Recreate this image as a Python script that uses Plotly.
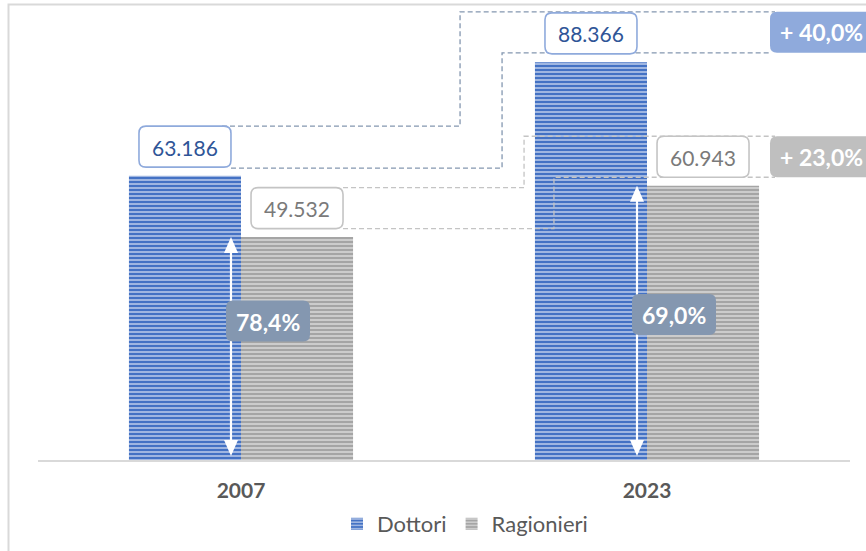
import plotly.graph_objects as go

# ---------------- data ----------------
years = ["2007", "2023"]
dottori = [63186, 88366]
ragionieri = [49532, 60943]
series_names = ["Dottori", "Ragionieri"]


def it_num(v):
    return f"{v:,}".replace(",", ".")


def it_pct(p):
    return f"{p:.1f}".replace(".", ",") + "%"


ratio = [r / d * 100 for d, r in zip(dottori, ragionieri)]
# growth shown as whole percent with ",0"
growth_d = round((dottori[1] / dottori[0] - 1) * 100)
growth_r = round((ragionieri[1] / ragionieri[0] - 1) * 100)

# ---------------- geometry ----------------
W, H = 866, 551
PL, PR, PT, PB = 38, 850, 10, 460
YMAX = 100000
BARGAP = 0.448
FONT = "Lato"

BLUE = "#4472C4"
BLUE_STRIPE = "#d3ddf2"
GREY = "#a5a5a5"
GREY_STRIPE = "#e2e2e2"
BLUE_BORDER = "#8faadc"
BLUE_TEXT = "#2f5597"
GREY_BORDER = "#c4c4c4"
GREY_TEXT = "#7a7a7a"
DASH_BLUE = "#8497b0"
DASH_GREY = "#c4c4c4"
PCT_FILL = "#8497b0"


def fx(px):
    return (px - PL) / (PR - PL)


def fy(py):
    return (PB - py) / (PB - PT)


def ypx(v):
    return PB - v * (PB - PT) / YMAX


CATW = (PR - PL) / len(years)
BW = CATW * (1 - BARGAP) / 2


def cx(i):
    return PL + (i + 0.5) * CATW


def bar_cx(i, s):
    return cx(i) + (s - 0.5) * BW


def P(x, y):
    return f"{fx(x):.5f},{fy(y):.5f}"


def rrect_path(x0, y0, x1, y1, r):
    return (f"M {P(x0 + r, y0)} L {P(x1 - r, y0)} Q {P(x1, y0)} {P(x1, y0 + r)} "
            f"L {P(x1, y1 - r)} Q {P(x1, y1)} {P(x1 - r, y1)} "
            f"L {P(x0 + r, y1)} Q {P(x0, y1)} {P(x0, y1 - r)} "
            f"L {P(x0, y0 + r)} Q {P(x0, y0)} {P(x0 + r, y0)} Z")


def poly_path(pts):
    return "M " + " L ".join(P(x, y) for x, y in pts)


shapes = []
annotations = []


def add_path(path, line_color=None, line_width=0, fill=None, dash=None):
    d = dict(type="path", xref="paper", yref="paper", path=path, layer="above",
             line=dict(color=line_color or "rgba(0,0,0,0)", width=line_width))
    if dash:
        d["line"]["dash"] = dash
    if fill:
        d["fillcolor"] = fill
    shapes.append(d)


def add_text(x, y, text, color, size, bold=False, xanchor="center"):
    annotations.append(dict(
        xref="paper", yref="paper", x=fx(x), y=fy(y), text=text, showarrow=False,
        xanchor=xanchor, yanchor="middle",
        font=dict(family=FONT, size=size, color=color, weight="bold" if bold else "normal")))


fig = go.Figure()
fig.add_trace(go.Bar(
    x=years, y=dottori, name=series_names[0],
    marker=dict(color=BLUE, line=dict(width=0),
                pattern=dict(shape="-", bgcolor=BLUE, fgcolor=BLUE_STRIPE,
                             size=4, solidity=0.32, fillmode="replace")),
    hoverinfo="x+y"))
fig.add_trace(go.Bar(
    x=years, y=ragionieri, name=series_names[1],
    marker=dict(color=GREY, line=dict(width=0),
                pattern=dict(shape="-", bgcolor=GREY, fgcolor=GREY_STRIPE,
                             size=4, solidity=0.32, fillmode="replace")),
    hoverinfo="x+y"))

# outer chart border
shapes.append(dict(type="rect", xref="paper", yref="paper",
                   x0=fx(8.5), x1=fx(900), y0=fy(4.5), y1=fy(600),
                   line=dict(color="#d9d9d9", width=2), layer="below"))

BOXW, BOXH, GAP, RAD = 92, 41, 8.5, 7

# value-box geometry
vbox = {}
for i in range(len(years)):
    for s, vals in enumerate([dottori, ragionieri]):
        c = bar_cx(i, s)
        bottom = ypx(vals[i]) - GAP
        vbox[(i, s)] = (c - BOXW / 2, bottom - BOXH, c + BOXW / 2, bottom)

GX = 770  # left of growth boxes
gbox_d = (GX, vbox[(1, 0)][1] - 1, 900, vbox[(1, 0)][3] - 1)
gbox_r = (GX, vbox[(1, 1)][1], 900, vbox[(1, 1)][3])

# dashed connectors (2007 boxes -> growth boxes)
gap_l = cx(0) + BW
gap_r = cx(1) - BW
b0 = vbox[(0, 0)]
b1 = vbox[(0, 1)]
add_path(poly_path([(b0[2] - 9, b0[1]), (gap_l + 107, b0[1]), (gap_l + 107, gbox_d[1]), (GX + 5, gbox_d[1])]),
         DASH_BLUE, 1.3, dash="5px,3px")
add_path(poly_path([(b0[2], b0[3] + 1), (gap_l + 149, b0[3] + 1), (gap_l + 149, gbox_d[3]), (GX, gbox_d[3])]),
         DASH_BLUE, 1.3, dash="5px,3px")
add_path(poly_path([(b1[2], b1[1]), (gap_l + 171, b1[1]), (gap_l + 171, gbox_r[1]), (GX + 5, gbox_r[1])]),
         DASH_GREY, 1.3, dash="5px,3px")
add_path(poly_path([(b1[2], b1[3]), (gap_r + 19, b1[3]), (gap_r + 19, gbox_r[3]), (GX + 5, gbox_r[3])]),
         DASH_GREY, 1.3, dash="5px,3px")

# growth boxes
add_path(rrect_path(*gbox_d, RAD), fill=BLUE_BORDER)
add_path(rrect_path(*gbox_r, RAD), fill="#bfbfbf")
add_text(GX + 8, (gbox_d[1] + gbox_d[3]) / 2, "+ " + it_pct(growth_d), "white", 23, True, "left")
add_text(GX + 8, (gbox_r[1] + gbox_r[3]) / 2, "+ " + it_pct(growth_r), "white", 23, True, "left")

# value boxes
for (i, s), (x0, y0, x1, y1) in vbox.items():
    border = BLUE_BORDER if s == 0 else GREY_BORDER
    tcol = BLUE_TEXT if s == 0 else GREY_TEXT
    add_path(rrect_path(x0, y0, x1, y1, RAD), border, 1.6, fill="white")
    v = dottori[i] if s == 0 else ragionieri[i]
    add_text((x0 + x1) / 2, (y0 + y1) / 2 + 0.5, it_num(v), tcol, 21)

# white double arrows + ratio boxes
pct_y = [321, 314.5]
for i in range(len(years)):
    ax = cx(i) - 10
    top = ypx(ragionieri[i])
    bot = PB - 4
    HW, HL = 7, 16
    add_path(poly_path([(ax, top + HL - 2), (ax, bot - HL + 2)]), "white", 2.2)
    add_path(f"M {P(ax, top)} L {P(ax - HW, top + HL)} L {P(ax + HW, top + HL)} Z", fill="white")
    add_path(f"M {P(ax, bot)} L {P(ax - HW, bot - HL)} L {P(ax + HW, bot - HL)} Z", fill="white")
    pcx = ax + 37
    add_path(rrect_path(pcx - 42, pct_y[i] - 20.5, pcx + 42, pct_y[i] + 20.5, RAD), fill=PCT_FILL)
    add_text(pcx, pct_y[i] + 0.5, it_pct(ratio[i]), "white", 23, True)

fig.update_layout(
    width=W, height=H,
    margin=dict(l=PL, r=W - PR, t=PT, b=H - PB, pad=0, autoexpand=False),
    paper_bgcolor="white", plot_bgcolor="white",
    barmode="group", bargap=BARGAP, bargroupgap=0,
    font=dict(family=FONT, color="#595959"),
    xaxis=dict(type="category", range=[-0.5, 1.5], showline=True, linecolor="#d9d9d9",
               linewidth=2, ticks="", showgrid=False, fixedrange=True, automargin=False,
               tickfont=dict(family=FONT, size=21, color="#595959", weight="bold"),
               ticklabelstandoff=11),
    yaxis=dict(range=[0, YMAX], visible=False, showgrid=False, fixedrange=True),
    showlegend=True,
    legend=dict(orientation="h", x=fx(337), xanchor="left", y=fy(503), yanchor="top",
                font=dict(family=FONT, size=22, color="#595959"),
                itemwidth=30, traceorder="normal", bgcolor="rgba(0,0,0,0)"),
    shapes=shapes, annotations=annotations,
)

fig.write_html("out.html", config={"displayModeBar": False},
               post_script="document.body.style.margin='0';document.body.style.overflow='hidden';")
